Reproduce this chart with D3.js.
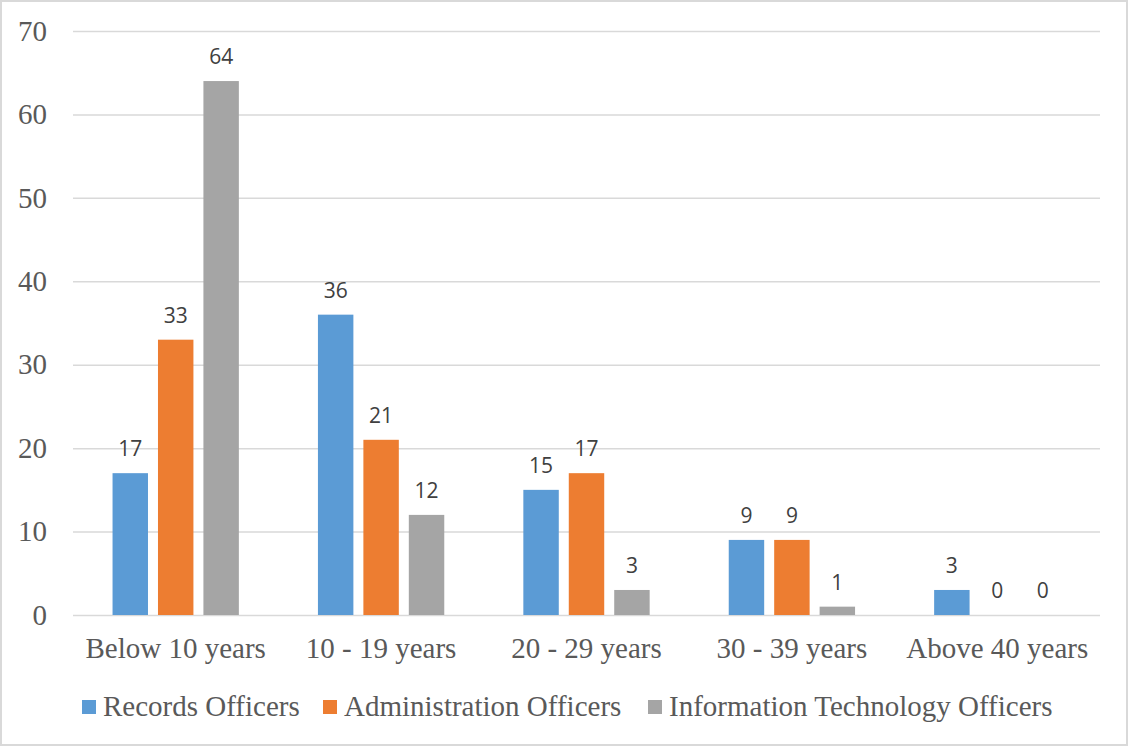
<!DOCTYPE html>
<meta charset="utf-8">
<style>
body { margin: 0; background: #fff; }
.tick text, .cat text { font-family: "Liberation Serif", "Times New Roman", serif; fill: #595959; }
.lbl { font-family: "Open Sans", "Liberation Sans", sans-serif; font-size: 21px; fill: #404040; text-anchor: middle; }
.legend text { font-family: "Liberation Serif", "Times New Roman", serif; font-size: 29px; fill: #595959; }
</style>
<svg width="1128" height="746"></svg>
<script src="https://d3js.org/d3.v7.min.js"></script>
<script>

var categories = ["Below 10 years", "10 - 19 years", "20 - 29 years", "30 - 39 years", "Above 40 years"];
var seriesNames = ["Records Officers", "Administration Officers", "Information Technology Officers"];
var records = [17, 36, 15, 9, 3];
var admin = [33, 21, 17, 9, 0];
var itOfficers = [64, 12, 3, 1, 0];
var yTicks = [0, 10, 20, 30, 40, 50, 60, 70];
var colors = ["#5B9BD5", "#ED7D31", "#A5A5A5"];

var values = [records, admin, itOfficers];

var svg = d3.select("svg"),
    width = +svg.attr("width"),
    height = +svg.attr("height");

// chart border
svg.append("rect")
    .attr("x", 1).attr("y", 1)
    .attr("width", width - 2).attr("height", height - 2)
    .attr("fill", "#fff")
    .attr("stroke", "#D9D9D9")
    .attr("stroke-width", 2);

var plotLeft = 73, plotRight = 1100, plotTop = 31, plotBottom = 615;

var y = d3.scaleLinear().domain([0, 70]).range([plotBottom, plotTop]);
var x0 = d3.scaleBand().domain(categories).range([plotLeft, plotRight]);
var groupW = x0.bandwidth() * 0.615;
var x1 = d3.scaleBand().domain(seriesNames)
    .range([(x0.bandwidth() - groupW) / 2, (x0.bandwidth() + groupW) / 2])
    .paddingInner(0.22);

// gridlines + y labels
var yAxis = svg.append("g")
    .attr("transform", "translate(" + plotLeft + ",0)")
    .call(d3.axisLeft(y).tickValues(yTicks).tickSize(-(plotRight - plotLeft)).tickPadding(26));
yAxis.select(".domain").remove();
yAxis.selectAll(".tick line").attr("stroke", "#D9D9D9").attr("stroke-width", 1.5);
yAxis.selectAll(".tick text").style("font-size", "29px");

// bars
var group = svg.append("g").selectAll("g")
  .data(categories)
  .enter().append("g")
    .attr("transform", function(d) { return "translate(" + x0(d) + ",0)"; });

group.selectAll("rect")
  .data(function(d, i) { return seriesNames.map(function(s, j) { return {s: s, v: values[j][i], c: colors[j]}; }); })
  .enter().append("rect")
    .attr("x", function(d) { return x1(d.s); })
    .attr("y", function(d) { return y(d.v); })
    .attr("width", x1.bandwidth())
    .attr("height", function(d) { return y(0) - y(d.v); })
    .attr("fill", function(d) { return d.c; });

group.selectAll("text")
  .data(function(d, i) { return seriesNames.map(function(s, j) { return {s: s, v: values[j][i]}; }); })
  .enter().append("text")
    .attr("class", "lbl")
    .attr("x", function(d) { return x1(d.s) + x1.bandwidth() / 2; })
    .attr("y", function(d) { return y(d.v) - 17; })
    .text(function(d) { return d.v; });

// category labels
var xAxis = svg.append("g")
    .attr("class", "cat")
    .attr("transform", "translate(0," + plotBottom + ")")
    .call(d3.axisBottom(x0).tickSize(0).tickPadding(22));
xAxis.select(".domain").remove();
xAxis.selectAll("text").style("font-size", "29px");

// legend
var legendX = [82, 323, 648];
var legend = svg.append("g").attr("class", "legend")
  .selectAll("g")
  .data(seriesNames)
  .enter().append("g")
    .attr("transform", function(d, i) { return "translate(" + legendX[i] + ",700)"; });
legend.append("rect")
    .attr("width", 14).attr("height", 14)
    .attr("fill", function(d, i) { return colors[i]; });
legend.append("text")
    .attr("x", 21).attr("y", 16)
    .text(function(d) { return d; });

</script>
